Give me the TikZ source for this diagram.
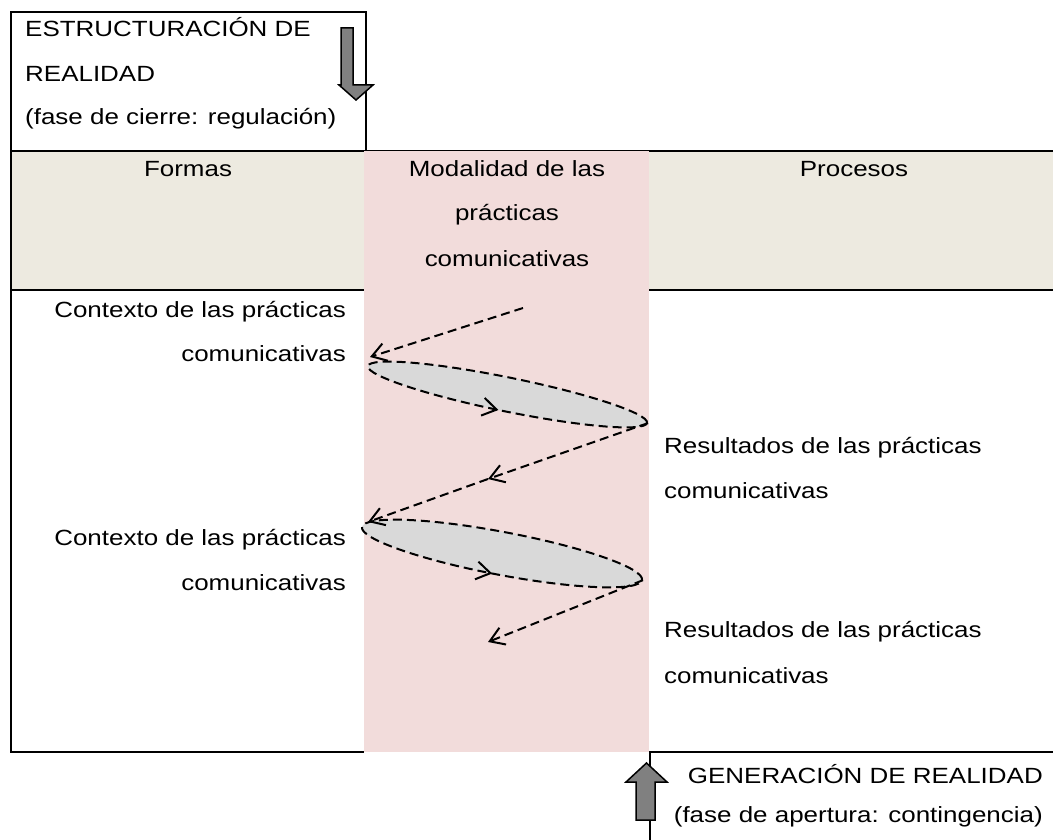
\documentclass[tikz,border=0pt]{standalone}
\usepackage{fontspec}
\setmainfont{Liberation Sans}[FakeStretch=1.18]
\usetikzlibrary{arrows.meta,decorations.markings,shapes.geometric}
\definecolor{beige}{RGB}{237,234,224}
\definecolor{pinkcol}{RGB}{242,220,219}
\definecolor{ellgray}{RGB}{217,217,217}
\definecolor{arrgray}{RGB}{128,128,128}
\begin{document}
\begin{tikzpicture}[x=1pt,y=-1pt,
  frame/.style={line width=2.4pt},
  txt/.style={inner sep=0pt, font=\fontsize{22}{26}\selectfont},
  tipv/.tip={Straight Barb[length=14pt,width=18pt]},
  dline/.style={dash pattern=on 9pt off 5pt, line width=2pt, -tipv},
  loopell/.style={ellipse, draw, dash pattern=on 9pt off 5pt, line width=2pt, fill=ellgray, inner sep=0pt,
    postaction={decorate, decoration={markings, mark=at position 0.74 with {\arrow[solid]{tipv}}}}},
  blockarrow/.style={fill=arrgray, draw=black, line width=1.5pt, line join=miter}]
\useasboundingbox (0,0) rectangle (1053,840);
% header background
\fill[beige] (11,151) rectangle (1053,290);
% frame lines
\draw[frame] (11,151) -- (11,12) -- (366,12) -- (366,151);
\draw[frame] (11,151) -- (1053,151);
\draw[frame] (11,290) -- (1053,290);
\draw[frame] (11,151) -- (11,752) -- (364,752);
\draw[frame] (1053,752) -- (650,752) -- (650,840);
% pink column
\fill[pinkcol] (364,151) rectangle (649,752);
% block arrows
\draw[blockarrow] (341,28) -- (353,28) -- (353,85) -- (373,85) -- (356,100) -- (339,85) -- (341,85) -- cycle;
\draw[blockarrow] (636,820) -- (636,782) -- (626,782) -- (646.5,763) -- (667,782) -- (655,782) -- (655,820) -- cycle;
% texts
\node[txt, anchor=base west] (t1) at (25,37) {ESTRUCTURACIÓN DE};
\node[txt, anchor=base west] (t2) at (25,82) {REALIDAD};
\node[txt, anchor=base west] (t3) at (25,125) {(fase de cierre: regulación)};
\node[txt, anchor=base] (h1) at (188,177) {Formas};
\node[txt, anchor=base] (h2) at (507,177) {Modalidad de las};
\node[txt, anchor=base] (h3) at (507,221) {prácticas};
\node[txt, anchor=base] (h4) at (507,266) {comunicativas};
\node[txt, anchor=base] (h5) at (854,177) {Procesos};
\node[txt, anchor=base east] (c1) at (346,317) {Contexto de las prácticas};
\node[txt, anchor=base east] (c2) at (346,361) {comunicativas};
\node[txt, anchor=base east] (c3) at (346,545) {Contexto de las prácticas};
\node[txt, anchor=base east] (c4) at (346,590) {comunicativas};
\node[txt, anchor=base west] (r1) at (664,453) {Resultados de las prácticas};
\node[txt, anchor=base west] (r2) at (664,498) {comunicativas};
\node[txt, anchor=base west] (r3) at (664,637) {Resultados de las prácticas};
\node[txt, anchor=base west] (r4) at (664,683) {comunicativas};
\node[txt, anchor=base east] (g1) at (1043,783) {GENERACIÓN DE REALIDAD};
\node[txt, anchor=base east] (g2) at (1043,822) {(fase de apertura: contingencia)};
% ellipses
\node[loopell, minimum width=284.8pt, minimum height=34pt, rotate=-11.5] (e1) at (507.5,394.5) {};
\node[loopell, minimum width=285pt, minimum height=43pt, rotate=-10.7] (e2) at (502,553.5) {};
% dashed connectors
\coordinate (s1) at (523,308);
\coordinate (k1) at (370,357);
\coordinate (m1) at (488,479);
\coordinate (k2) at (368,522);
\coordinate (k3) at (488,642);
\draw[dline] (s1) -- (k1);
\draw[dline] (e1.east) -- (m1);
\draw[dline] (m1) -- (k2);
\draw[dline] (e2.east) -- (k3);
\end{tikzpicture}
\end{document}
